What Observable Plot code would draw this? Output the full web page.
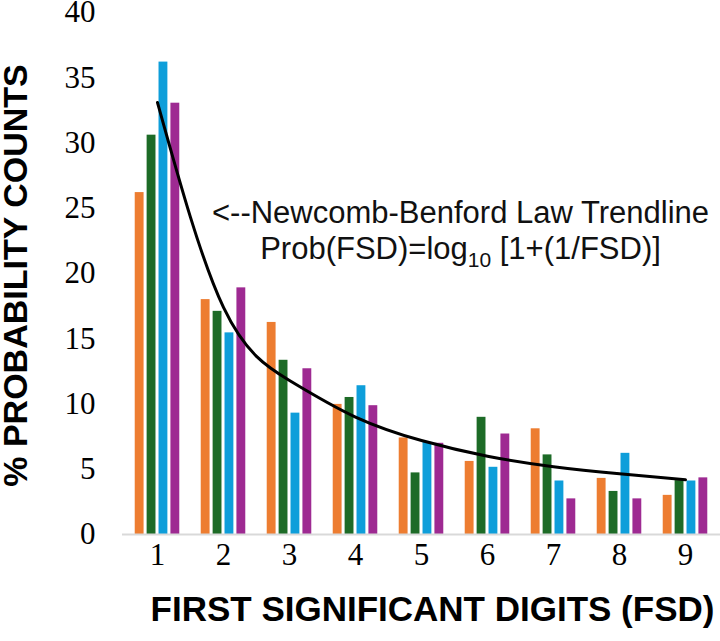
<!DOCTYPE html>
<html>
<head>
<meta charset="utf-8">
<script src="https://cdn.jsdelivr.net/npm/d3@7"></script>
<script src="https://cdn.jsdelivr.net/npm/@observablehq/plot@0.6"></script>
<style>
  html, body { margin: 0; padding: 0; background: #fff; }
</style>
</head>
<body>
<div id="chart"></div>
<script>
// ---- data ----
const digits = [1, 2, 3, 4, 5, 6, 7, 8, 9];
const seriesNames = ["Series 1", "Series 2", "Series 3", "Series 4"];
const series1 = [26.2, 18.0, 16.25, 9.97, 7.4, 5.6, 8.1, 4.3, 3.0];
const series2 = [30.6, 17.1, 13.35, 10.5, 4.72, 8.98, 6.1, 3.3, 4.13];
const series3 = [36.2, 15.45, 9.3, 11.4, 7.06, 5.15, 4.1, 6.22, 4.1];
const series4 = [33.05, 18.9, 12.7, 9.87, 6.99, 7.7, 2.73, 2.73, 4.34];
const trendline = [33.1, 17.4, 11.8, 9.0, 7.2, 6.0, 5.2, 4.65, 4.19];
const yTicks = [0, 5, 10, 15, 20, 25, 30, 35, 40];
const xTitle = "FIRST SIGNIFICANT DIGITS (FSD)";
const yTitle = "% PROBABILITY COUNTS";
const noteLine1 = "<--Newcomb-Benford Law Trendline";
const noteLine2 = "Prob(FSD)=log10 [1+(1/FSD)]";
const colors = ["#ED7D31", "#1D6B27", "#0E9EDA", "#9E2A92"];

// ---- layout ----
const W = 720, H = 641;
const mL = 122, mR = 0, mT = 12, mB = 107;
const step = (W - mL - mR) / digits.length;   // band width per digit
const barW = 9.3, barStep = 11.9;

const allSeries = [series1, series2, series3, series4];
const barMarks = allSeries.map((vals, i) => {
  const rows = digits.map((d, k) => ({digit: d, value: vals[k], series: seriesNames[i]}));
  const offset = (i - 1.5) * barStep;
  const insetLeft = step / 2 + offset - barW / 2;
  const insetRight = step - insetLeft - barW;
  return Plot.barY(rows, {x: "digit", y: "value", fill: colors[i], insetLeft, insetRight});
});

const trendRows = digits.map((d, k) => ({digit: d, value: trendline[k]}));
const sans = "'Liberation Sans', Arial, sans-serif";

const chart = Plot.plot({
  width: W,
  height: H,
  marginLeft: mL,
  marginRight: mR,
  marginTop: mT,
  marginBottom: mB,
  style: {fontFamily: "'Liberation Serif', 'Times New Roman', serif", fontSize: "31px", color: "#000", background: "#fff"},
  x: {type: "band", domain: digits, padding: 0, tickSize: 0, tickPadding: 8, label: null},
  y: {domain: [0, 40], ticks: yTicks, tickSize: 0, tickPadding: 27, label: null},
  marks: [
    ...barMarks,
    Plot.ruleY([0], {stroke: "#d9d9d9", strokeWidth: 2}),
    Plot.line(trendRows, {x: "digit", y: "value", stroke: "#000", strokeWidth: 3, curve: "natural"}),
    Plot.text([noteLine1], {x: () => 5, y: () => 24.6, dx: 39, text: d => d, fontFamily: sans, fontSize: 31, fill: "#111"}),
    Plot.text([noteLine2], {x: () => 5, y: () => 21.9, dx: 39, text: d => d, fontFamily: sans, fontSize: 31, fill: "#111"}),
    Plot.text([xTitle], {frameAnchor: "bottom", textAnchor: "middle", dx: 11, dy: 86, text: d => d, fontFamily: sans, fontWeight: "bold", fontSize: 35, fill: "#000"}),
    Plot.text([yTitle], {frameAnchor: "left", textAnchor: "middle", dx: -106, dy: 2, rotate: -90, text: d => d, fontFamily: sans, fontWeight: "bold", fontSize: 34, fill: "#000"})
  ]
});

document.getElementById("chart").appendChild(chart);

// subscript "10" in log10
d3.select(chart).selectAll("text").filter(function() { return this.textContent === noteLine2; })
  .each(function() {
    const t = d3.select(this);
    const parts = noteLine2.split("log10");
    t.text(null);
    t.append("tspan").text(parts[0] + "log");
    t.append("tspan").attr("font-size", 21).attr("dy", 8).text("10");
    t.append("tspan").attr("dy", -8).text(parts[1]);
  });
</script>
</body>
</html>
